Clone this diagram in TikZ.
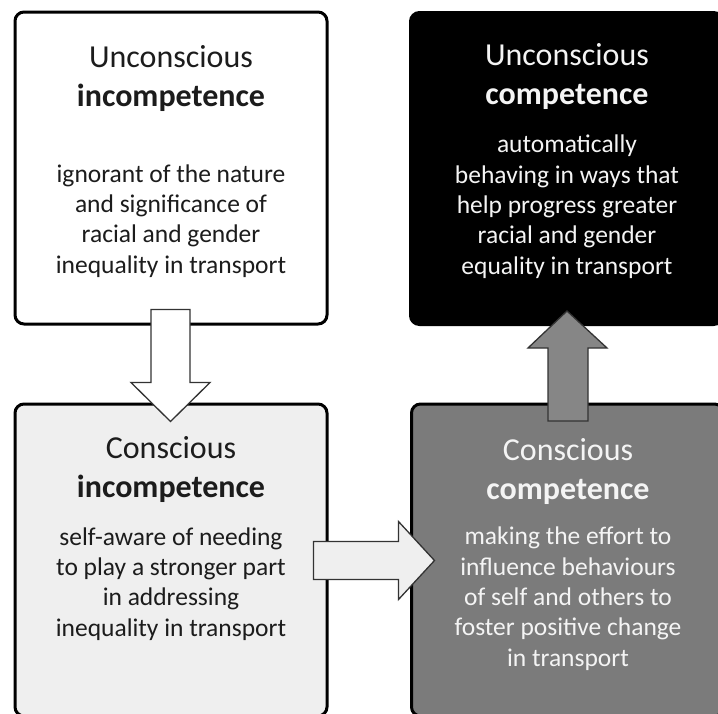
\documentclass[tikz,border=0pt]{standalone}
\usepackage{fontspec}
\setmainfont{Carlito}
\usetikzlibrary{calc}
\definecolor{lightfill}{HTML}{EFEFEF}
\definecolor{midfill}{HTML}{7B7B7B}
\definecolor{arrowgray}{HTML}{868686}
\definecolor{darktext}{HTML}{1C1C1C}
\definecolor{lighttext}{HTML}{F4F4F4}
\begin{document}
\begin{tikzpicture}[x=1pt,y=-1pt,
  box/.style={draw=black, line width=3pt, rounded corners=9pt, inner sep=0pt,
    minimum width=312pt, minimum height=312pt},
  titletext/.style={font=\fontsize{32}{39}\selectfont, align=center, anchor=base, inner sep=0pt},
  bodytext/.style={font=\fontsize{25.5}{30.3}\selectfont, align=center, anchor=base, inner sep=0pt},
  blockarrow/.style={draw=black!80, line width=1.3pt, line join=miter}]
\fill[white] (0,0) rectangle (718,713);
\clip (0,0) rectangle (718,713);

% boxes
\node[box, fill=white] (ui) at (171,168) {};
\node[box, fill=black] (uc) at (566.5,168.5) {};
\node[box, fill=lightfill] (ci) at (171,560) {};
\node[box, fill=midfill] (cc) at (567.5,560) {};

% texts (anchor base = baseline of the last line)
\node[titletext, text=darktext] (uit) at (171,106) {Unconscious\\\textbf{incompetence}};
\node[bodytext, text=darktext] (uib) at (171,273) {ignorant of the nature\\and significance of\\racial and gender\\inequality in transport};

\node[titletext, text=lighttext] (uct) at (567,104) {Unconscious\\\textbf{competence}};
\node[bodytext, text=lighttext] (ucb) at (567,274) {automatically\\behaving in ways that\\help progress greater\\racial and gender\\equality in transport};

\node[titletext, text=darktext] (cit) at (171,497) {Conscious\\\textbf{incompetence}};
\node[bodytext, text=darktext] (cib) at (171,636) {self-aware of needing\\to play a stronger part\\in addressing\\inequality in transport};

\node[titletext, text=lighttext] (cct) at (568,499) {Conscious\\\textbf{competence}};
\node[bodytext, text=lighttext] (ccb) at (568,666) {making the effort to\\influence behaviours\\of self and others to\\foster positive change\\in transport};

% block arrows
% down: ui -> ci
\draw[blockarrow, fill=white]
  ($(ui.south)+(-20,-16)$) -- ($(ui.south)+(19,-16)$) -- ($(ui.south)+(19,57)$)
  -- ($(ui.south)+(39,57)$) -- ($(ui.south)+(-0.5,96)$) -- ($(ui.south)+(-40,57)$)
  -- ($(ui.south)+(-20,57)$) -- cycle;
% right: ci -> cc
\draw[blockarrow, fill=lightfill]
  ($(ci.east)+(-15,-18.5)$) -- ($(ci.east)+(70,-18.5)$) -- ($(ci.east)+(70,-38.5)$)
  -- ($(ci.east)+(106,0.5)$) -- ($(ci.east)+(70,39.5)$) -- ($(ci.east)+(70,19.5)$)
  -- ($(ci.east)+(-15,19.5)$) -- cycle;
% up: cc -> uc
\draw[blockarrow, fill=arrowgray]
  ($(uc.south)+(-18.5,95)$) -- ($(uc.south)+(21.5,95)$) -- ($(uc.south)+(21.5,22)$)
  -- ($(uc.south)+(40.5,22)$) -- ($(uc.south)+(0.5,-15)$) -- ($(uc.south)+(-38.5,22)$)
  -- ($(uc.south)+(-18.5,22)$) -- cycle;
\end{tikzpicture}
\end{document}
